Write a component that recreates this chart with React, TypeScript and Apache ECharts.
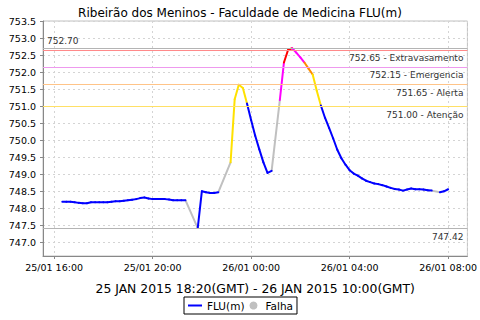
import React, { useEffect, useRef } from "react";
import * as echarts from "echarts";

// Time grid: one reading every 10 minutes from 25/01 16:20 to 26/01 08:00 (local time)
const START = Date.UTC(2015, 0, 25, 16, 20);
const STEP_MIN = 10;

// FLU(m) readings, null = missing reading (Falha)
const levels: (number | null)[] = [
  748.19, 748.19, 748.19, 748.18, // 16:20-16:50
  748.16, 748.15, 748.15, 748.18, 748.18, 748.18, // 17:00-17:50
  748.18, 748.18, 748.19, 748.21, 748.21, 748.22, // 18:00-18:50
  748.24, 748.25, 748.27, 748.3, 748.32, 748.29, // 19:00-19:50
  748.27, 748.27, 748.27, 748.27, 748.26, 748.24, // 20:00-20:50
  748.24, 748.24, 748.24, null, null, 747.42, // 21:00-21:50
  748.5, 748.47, 748.45, 748.45, 748.47, null, // 22:00-22:50
  null, 749.35, 751.2, 751.63, 751.53, 751.08, // 23:00-23:50
  750.59, 750.13, 749.73, 749.35, 749.04, 749.1, // 00:00-00:50
  null, 751.18, 752.28, 752.65, 752.7, 752.57, // 01:00-01:50
  752.43, 752.28, 752.1, 751.93, 751.45, 751.02, // 02:00-02:50
  750.66, 750.36, 750.05, 749.72, 749.47, 749.28, // 03:00-03:50
  749.12, 749.02, 748.96, 748.88, 748.81, 748.77, // 04:00-04:50
  748.73, 748.71, 748.68, 748.64, 748.6, 748.57, // 05:00-05:50
  748.55, 748.52, 748.55, 748.58, 748.56, 748.56, // 06:00-06:50
  748.55, 748.53, 748.52, null, 748.47, 748.5, // 07:00-07:50
  748.56, // 08:00
];

const thresholdValues = [752.65, 752.15, 751.65, 751.0];
const thresholdLabels = [
  "752.65 - Extravasamento",
  "752.15 - Emergencia",
  "751.65 - Alerta",
  "751.00 - Atenção",
];
const thresholdLineColors = ["#ff8a8a", "#ee99ee", "#ffc488", "#ffe066"];
// blue (normal), yellow (atenção), orange (alerta), magenta (emergência), red (extravasamento)
const segmentColors = ["#0000ff", "#ffe100", "#ff8c00", "#ff00ff", "#ff0000"];
const falhaColor = "#c0c0c0";
const maxLevel = 752.7;
const minLevel = 747.42;

const title = "Ribeirão dos Meninos - Faculdade de Medicina FLU(m)";
const subtitle = "25 JAN 2015 18:20(GMT) - 26 JAN 2015 10:00(GMT)";

const FONT = "DejaVu Sans";

function colorIndex(v: number): number {
  if (v >= thresholdValues[0]) return 4;
  if (v >= thresholdValues[1]) return 3;
  if (v >= thresholdValues[2]) return 2;
  if (v >= thresholdValues[3]) return 1;
  return 0;
}

const pad = (n: number) => (n < 10 ? "0" + n : "" + n);

export default function App() {
  const ref = useRef<HTMLDivElement>(null);

  useEffect(() => {
    if (!ref.current) return;
    const chart = echarts.init(ref.current, undefined, { renderer: "svg" });

    const times = levels.map((_, i) => START + i * STEP_MIN * 60000);
    const fluSegs: number[][] = [];
    const gapSegs: number[][] = [];
    let prev = -1;
    levels.forEach((v, i) => {
      if (v == null) return;
      if (prev >= 0) {
        const seg = [times[prev], levels[prev] as number, times[i], v];
        if (i - prev > 1) gapSegs.push(seg);
        else fluSegs.push([...seg, colorIndex(v)]);
      }
      prev = i;
    });

    const span = times[times.length - 1] - times[0];
    const xMin = times[0] - span * 0.05;
    const xMax = times[times.length - 1] + span * 0.05;

    const renderSeg = (colorOf: (idx: number) => string) => (params: any, api: any) => {
      const a = api.coord([api.value(0), api.value(1)]);
      const b = api.coord([api.value(2), api.value(3)]);
      return {
        type: "line",
        shape: { x1: a[0], y1: a[1], x2: b[0], y2: b[1] },
        style: { stroke: colorOf(api.value(4)), lineWidth: 2, lineCap: "round" },
      };
    };

    const markData: any[] = [
      {
        yAxis: maxLevel,
        lineStyle: { color: "#b4b4b4" },
        label: { show: false },
      },
      ...thresholdValues.map((v, i) => ({
        yAxis: v,
        lineStyle: { color: thresholdLineColors[i] },
        label: { formatter: thresholdLabels[i], position: "insideEndBottom" },
      })),
      {
        yAxis: minLevel,
        lineStyle: { color: "#b4b4b4" },
        label: { formatter: minLevel.toFixed(2), position: "insideEndBottom" },
      },
    ];

    chart.setOption({
      animation: false,
      useUTC: true,
      backgroundColor: "#ffffff",
      title: {
        text: title,
        left: "center",
        top: 2,
        textStyle: { fontFamily: FONT, fontSize: 12, fontWeight: "normal", color: "#000" },
      },
      legend: {
        data: [
          { name: "FLU(m)", icon: "path://M0,0H14V2H0Z" },
          { name: "Falha", icon: "circle" },
        ],
        left: 184,
        top: 297,
        itemWidth: 14,
        itemHeight: 8,
        itemGap: 5,
        padding: [3, 4],
        borderColor: "#000",
        borderWidth: 1,
        textStyle: { fontFamily: FONT, fontSize: 10.5, color: "#000" },
      },
      grid: {
        left: 43,
        right: 8,
        top: 21,
        bottom: 64,
        show: true,
        borderColor: "#c0c0c0",
        borderWidth: 1,
        backgroundColor: "#ffffff",
      },
      xAxis: {
        type: "time",
        min: xMin,
        max: xMax,
        minInterval: 4 * 3600000,
        maxInterval: 4 * 3600000,
        name: subtitle,
        nameLocation: "middle",
        nameGap: 26,
        nameTextStyle: { fontFamily: FONT, fontSize: 12.4, color: "#000" },
        axisLine: { show: true, lineStyle: { color: "#888888" } },
        axisTick: { show: true, length: 3, lineStyle: { color: "#888888" } },
        axisLabel: {
          fontFamily: FONT,
          fontSize: 9.5,
          color: "#000",
          margin: 6,
          formatter: (val: number) => {
            const d = new Date(val);
            return (
              pad(d.getUTCDate()) + "/" + pad(d.getUTCMonth() + 1) + " " +
              pad(d.getUTCHours()) + ":" + pad(d.getUTCMinutes())
            );
          },
        },
        splitLine: { show: true, lineStyle: { color: "#d4d4d4", type: [2, 3] } },
      },
      yAxis: {
        type: "value",
        min: 746.6,
        max: 753.5,
        splitNumber: 14,
        minInterval: 0.5,
        maxInterval: 0.5,
        axisLine: { show: true, lineStyle: { color: "#888888" } },
        axisTick: { show: true, length: 3, lineStyle: { color: "#888888" } },
        axisLabel: {
          fontFamily: FONT,
          fontSize: 9.5,
          color: "#000",
          margin: 7,
          showMinLabel: false,
          formatter: (v: number) => v.toFixed(1),
        },
        splitLine: { show: true, lineStyle: { color: "#d4d4d4", type: [2, 3] } },
      },
      series: [
        {
          name: "Falha",
          type: "custom",
          itemStyle: { color: falhaColor },
          encode: { x: [0, 2], y: [1, 3] },
          renderItem: renderSeg(() => falhaColor),
          data: gapSegs,
          z: 3,
        },
        {
          name: "FLU(m)",
          type: "custom",
          itemStyle: { color: segmentColors[0] },
          encode: { x: [0, 2], y: [1, 3] },
          renderItem: renderSeg((idx) => segmentColors[idx]),
          data: fluSegs,
          z: 4,
        },
        {
          name: "limites",
          type: "line",
          data: [],
          z: 2,
          markLine: {
            silent: true,
            symbol: "none",
            animation: false,
            lineStyle: { type: "solid", width: 1 },
            label: { fontFamily: FONT, fontSize: 9, color: "#333", distance: 4 },
            data: markData,
          },
        },
      ],
    });

    // label of the maximum line, placed through the chart's own y scale
    const yMax = chart.convertToPixel({ yAxisIndex: 0 }, maxLevel) as number;
    const xLeft = chart.convertToPixel({ xAxisIndex: 0 }, xMin) as number;
    chart.setOption({
      graphic: [
        {
          type: "text",
          x: xLeft + 4,
          y: yMax - 3,
          style: {
            text: maxLevel.toFixed(2),
            fontFamily: FONT,
            fontSize: 9,
            fill: "#333",
            verticalAlign: "bottom",
            align: "left",
          },
          silent: true,
        },
      ],
    });

    return () => chart.dispose();
  }, []);

  return <div ref={ref} style={{ width: 480, height: 320, position: "absolute", left: 0, top: 0 }} />;
}
